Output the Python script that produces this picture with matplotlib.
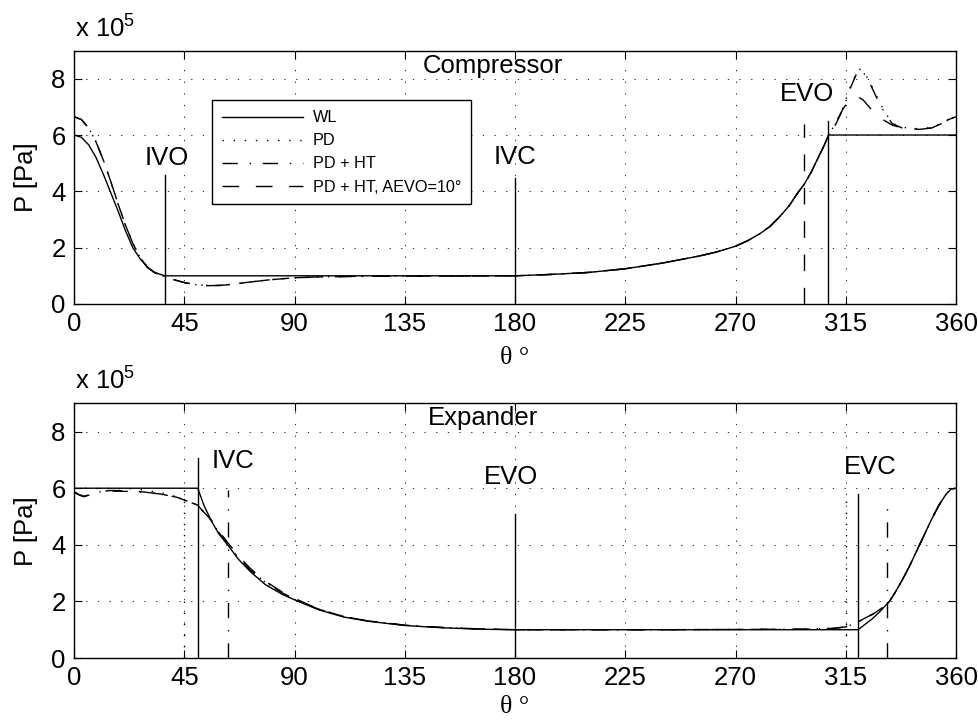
import matplotlib
matplotlib.use("Agg")
import matplotlib.pyplot as plt

plt.rcParams['font.family'] = ['Liberation Sans', 'DejaVu Sans']
plt.rcParams['mathtext.fontset'] = 'custom'
plt.rcParams['mathtext.rm'] = 'Liberation Sans'
plt.rcParams['mathtext.it'] = 'Liberation Sans:italic'
plt.rcParams['mathtext.bf'] = 'Liberation Sans:bold'

# ---- compressor data (pressure in 1e5 Pa, angle in degrees) ----
comp_wl_theta = [0, 3, 6, 9, 12, 15, 18, 21, 24, 27, 30, 33, 37,
                 180, 195, 210, 225, 240, 255, 262, 270, 275, 280, 284, 288, 292, 295, 298,
                 301, 304, 306, 308, 360]
comp_wl_p = [6.0, 5.92, 5.65, 5.2, 4.6, 3.95, 3.3, 2.6, 2.0, 1.6, 1.3, 1.12, 1.0,
             1.0, 1.05, 1.12, 1.25, 1.45, 1.7, 1.84, 2.05, 2.25, 2.5, 2.75, 3.1, 3.5, 3.9,
             4.25, 4.7, 5.25, 5.6, 6.0, 6.0]

comp_pd_theta = [0, 3, 6, 9, 12, 15, 18, 21, 24, 27, 30, 33, 37, 40, 45, 50, 55, 60, 65, 70,
                 80, 90, 100, 115, 135, 160, 180, 195, 210, 225, 240, 255, 262, 270, 275, 280,
                 284, 288, 292, 295, 298, 301, 304, 306, 308, 311, 314, 317, 320, 322, 325,
                 328, 331, 334, 338, 345, 350, 354, 357, 360]
comp_pdht_p = [6.65, 6.55, 6.25, 5.75, 5.1, 4.35, 3.55, 2.8, 2.15, 1.65, 1.3, 1.1, 0.98, 0.88,
               0.76, 0.68, 0.65, 0.66, 0.7, 0.76, 0.86, 0.93, 0.96, 0.98, 0.99, 0.99, 1.0, 1.05,
               1.12, 1.25, 1.45, 1.7, 1.84, 2.05, 2.25, 2.5, 2.75, 3.1, 3.5, 3.9, 4.25, 4.7,
               5.25, 5.6, 6.0, 6.4, 6.95, 7.7, 8.3, 8.25, 7.8, 7.25, 6.75, 6.4, 6.25, 6.2,
               6.25, 6.4, 6.55, 6.65]
comp_pd_p = [6.65, 6.55, 6.25, 5.75, 5.1, 4.35, 3.55, 2.8, 2.15, 1.65, 1.3, 1.1, 0.98, 0.88,
             0.76, 0.68, 0.65, 0.66, 0.7, 0.76, 0.86, 0.93, 0.96, 0.98, 0.99, 0.99, 1.0, 1.05,
             1.12, 1.25, 1.45, 1.7, 1.84, 2.05, 2.25, 2.5, 2.75, 3.1, 3.5, 3.9, 4.25, 4.7,
             5.25, 5.6, 6.0, 6.45, 7.0, 7.75, 8.35, 8.3, 7.85, 7.3, 6.8, 6.42, 6.27, 6.22,
             6.27, 6.42, 6.57, 6.67]
comp_aevo_p = [6.65, 6.55, 6.25, 5.75, 5.1, 4.35, 3.55, 2.8, 2.15, 1.65, 1.3, 1.1, 0.98, 0.88,
               0.76, 0.68, 0.65, 0.66, 0.7, 0.76, 0.86, 0.93, 0.96, 0.98, 0.99, 0.99, 1.0, 1.05,
               1.12, 1.25, 1.45, 1.7, 1.84, 2.05, 2.25, 2.5, 2.75, 3.1, 3.5, 3.9, 4.25, 4.7,
               5.25, 5.6, 6.0, 6.45, 6.95, 7.3, 7.35, 7.25, 6.95, 6.7, 6.5, 6.35, 6.25, 6.2,
               6.25, 6.4, 6.55, 6.65]

# valve event lines: (angle, top)
comp_wl_events = [(37, 4.57), (180, 4.48), (307.6, 6.5)]
comp_aevo_event = (298, 6.4)
comp_labels = [("IVO", 38, 5.2), ("IVC", 180, 5.23), ("EVO", 299, 7.45)]

# ---- expander data ----
exp_wl_theta = [0, 50.5, 53, 56, 59, 62.7, 67, 72, 78, 85, 91.5, 100, 110, 120, 135, 150, 165,
                180, 320, 323, 326, 329, 332.8, 335, 338, 341, 344, 347, 350, 353, 356, 358, 360]
exp_wl_p = [6.0, 6.0, 5.4, 4.85, 4.4, 4.0, 3.5, 3.05, 2.6, 2.25, 2.0, 1.7, 1.45, 1.3, 1.15, 1.07,
            1.02, 1.0, 1.0, 1.2, 1.4, 1.65, 2.0, 2.3, 2.75, 3.25, 3.8, 4.35, 4.9, 5.4, 5.8, 5.97, 6.0]

exp_pd_theta = [0, 2, 4, 6, 9, 15, 25, 35, 42, 47, 50.5, 53, 56, 59, 63, 67, 72, 78, 85, 91.5,
                100, 110, 120, 135, 150, 165, 180, 240, 300, 310, 315, 318, 320, 323, 326, 329,
                332.8, 335, 338, 341, 344, 347, 350, 353, 356, 358, 360]
exp_pdht_p = [5.88, 5.78, 5.72, 5.76, 5.86, 5.9, 5.88, 5.8, 5.68, 5.52, 5.4, 5.15, 4.85, 4.45,
              3.98, 3.55, 3.1, 2.68, 2.3, 2.03, 1.72, 1.47, 1.31, 1.16, 1.08, 1.03, 1.0, 1.0,
              1.02, 1.05, 1.1, 1.2, 1.28, 1.42, 1.55, 1.72, 2.0, 2.3, 2.75, 3.25, 3.8, 4.35, 4.9,
              5.4, 5.8, 5.97, 6.0]
exp_pd_p = [6.0, 6.0, 6.0, 5.99, 5.99, 5.99, 5.98, 5.85, 5.7, 5.53, 5.4, 5.15, 4.85, 4.45,
            3.98, 3.55, 3.1, 2.68, 2.3, 2.03, 1.72, 1.47, 1.31, 1.16, 1.08, 1.03, 1.0, 1.0,
            1.02, 1.05, 1.1, 1.2, 1.28, 1.42, 1.55, 1.72, 2.0, 2.3, 2.75, 3.25, 3.8, 4.35, 4.9,
            5.4, 5.8, 5.97, 6.0]
exp_aevo_p = [5.86, 5.76, 5.7, 5.75, 5.86, 5.92, 5.9, 5.8, 5.68, 5.52, 5.4, 5.15, 4.88, 4.5,
              4.05, 3.62, 3.16, 2.72, 2.33, 2.05, 1.72, 1.47, 1.31, 1.16, 1.08, 1.03, 1.0, 1.0,
              1.02, 1.05, 1.1, 1.2, 1.28, 1.42, 1.55, 1.72, 2.0, 2.3, 2.75, 3.25, 3.8, 4.35, 4.9,
              5.4, 5.8, 5.97, 6.0]

exp_wl_events = [(50.5, 7.05), (180, 5.1), (320, 5.8)]
exp_pd_events = [(45, 6.0), (315, 5.8)]
exp_ht_events = [(63, 5.95), (332, 5.7)]
exp_labels = [("IVC", 65, 6.97), ("EVO", 178.3, 6.4), ("EVC", 325, 6.76)]

legend_names = ['WL', 'PD', 'PD + HT', 'PD + HT, AEVO=10°']

ls_dot = (0, (1, 7))
ls_dashdot = (0, (11, 8.5, 1, 8.5))
ls_dash = (0, (12, 12))
LW = 1.0
FS = 18.5

fig = plt.figure(figsize=(9.79, 7.22), dpi=100)
ax1 = fig.add_axes([0.0756, 0.579, 0.901, 0.351])
ax2 = fig.add_axes([0.0756, 0.0886, 0.901, 0.3528])


def style_axes(ax, xpad):
    ax.set_xlim(0, 360)
    ax.set_ylim(0, 9)
    ax.set_xticks(range(0, 361, 45))
    ax.set_yticks([0, 2, 4, 6, 8])
    ax.grid(True, color='black', linestyle=(0, (1.5, 12.5)), linewidth=0.6)
    ax.set_axisbelow(True)
    ax.tick_params(direction='in', length=6, width=0.8, top=True, right=True,
                   labelsize=FS, pad=6)
    for s in ax.spines.values():
        s.set_linewidth(1.0)
    ax.set_ylabel('P [Pa]', fontsize=FS)
    ax.yaxis.set_label_coords(-0.041, 0.5)
    ax.set_xlabel('θ °', fontsize=FS, family=['Liberation Serif', 'DejaVu Serif'], labelpad=xpad)
    ax.text(0.001, 1.053, r'x 10$^{\mathrm{5}}$', transform=ax.transAxes, fontsize=FS,
            ha='left', va='baseline')


# compressor
style_axes(ax1, 8)
ax1.plot(comp_wl_theta, comp_wl_p, color='black', lw=LW, label=legend_names[0])
ax1.plot(comp_pd_theta, comp_pd_p, color='black', lw=LW, linestyle=ls_dot, label=legend_names[1])
ax1.plot(comp_pd_theta, comp_pdht_p, color='black', lw=LW, linestyle=ls_dashdot, label=legend_names[2])
ax1.plot(comp_pd_theta, comp_aevo_p, color='black', lw=LW, linestyle=ls_dash, label=legend_names[3])
for th, top in comp_wl_events:
    ax1.plot([th, th], [0, top], color='black', lw=LW)
ax1.plot([comp_aevo_event[0]] * 2, [0, comp_aevo_event[1]], color='black', lw=LW, linestyle=ls_dash)
for txt, x, y in comp_labels:
    ax1.text(x, y, txt, fontsize=FS, ha='center', va='center')
ax1.text(171, 8.45, 'Compressor', fontsize=FS, ha='center', va='center')
leg = ax1.legend(loc='upper left', bbox_to_anchor=(0.1565, 0.803), borderaxespad=0,
                 fontsize=11.7, handlelength=5, handletextpad=0.6, labelspacing=0.5,
                 fancybox=False, framealpha=1, edgecolor='black', borderpad=0.6)
leg.get_frame().set_linewidth(1.0)

# expander
style_axes(ax2, 4)
ax2.plot(exp_wl_theta, exp_wl_p, color='black', lw=LW)
ax2.plot(exp_pd_theta, exp_pd_p, color='black', lw=LW, linestyle=ls_dot)
ax2.plot(exp_pd_theta, exp_pdht_p, color='black', lw=LW, linestyle=ls_dashdot)
ax2.plot(exp_pd_theta, exp_aevo_p, color='black', lw=LW, linestyle=ls_dash)
for th, top in exp_wl_events:
    ax2.plot([th, th], [0, top], color='black', lw=LW)
for th, top in exp_pd_events:
    ax2.plot([th, th], [0, top], color='black', lw=LW, linestyle=ls_dot)
for th, top in exp_ht_events:
    ax2.plot([th, th], [0, top], color='black', lw=LW, linestyle=ls_dashdot)
for txt, x, y in exp_labels:
    ax2.text(x, y, txt, fontsize=FS, ha='center', va='center')
ax2.text(167, 8.47, 'Expander', fontsize=FS, ha='center', va='center')

fig.savefig('out.png', dpi=100)
